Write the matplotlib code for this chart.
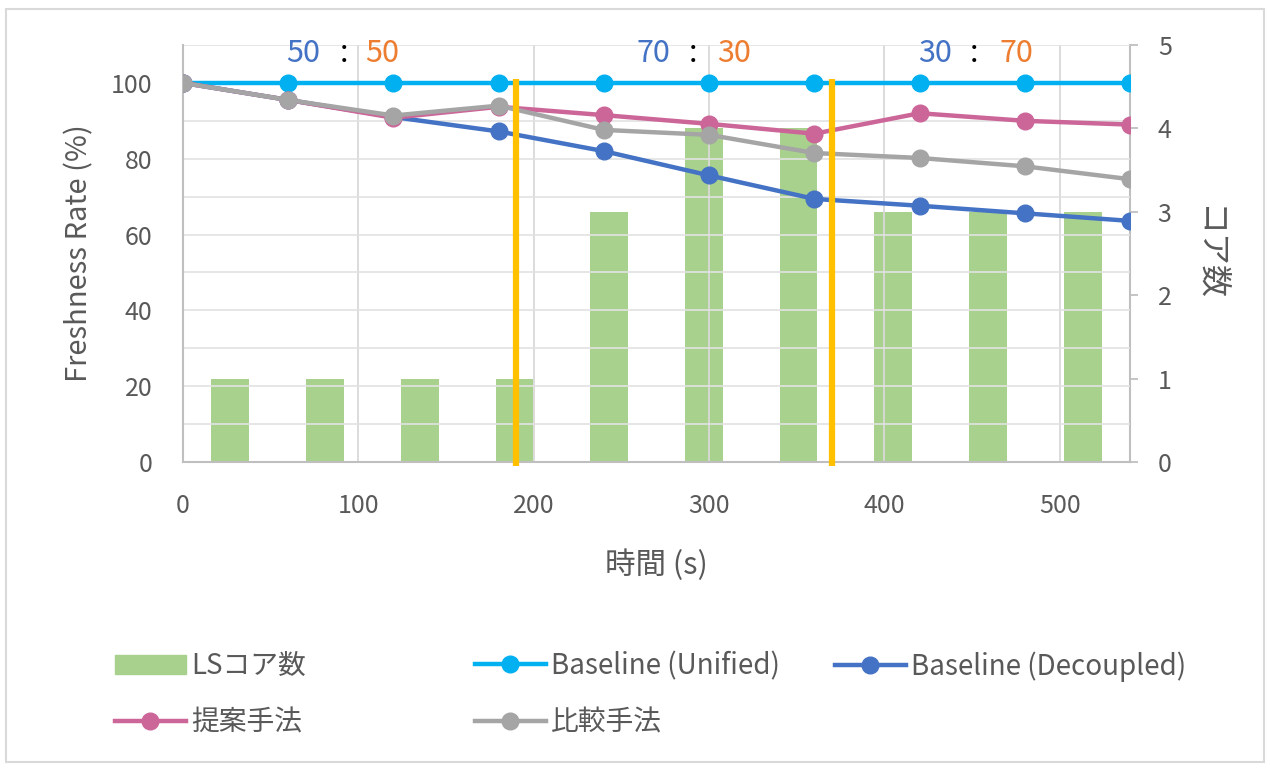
import numpy as np
import matplotlib
matplotlib.use("Agg")
import matplotlib.pyplot as plt
from matplotlib.patches import Rectangle
from matplotlib.lines import Line2D

plt.rcParams['font.family'] = ['Noto Sans CJK JP', 'DejaVu Sans']

# ---- data ----
time_s = [0, 60, 120, 180, 240, 300, 360, 420, 480, 540]
baseline_unified = [100, 100, 100, 100, 100, 100, 100, 100, 100, 100]
baseline_decoupled = [100, 95.5, 91, 87.2, 82, 75.6, 69.4, 67.6, 65.6, 63.6]
proposed = [100, 95.5, 90.8, 93.7, 91.5, 89.2, 86.6, 92, 90, 89]
comparison = [100, 95.5, 91.4, 94, 87.6, 86.3, 81.5, 80.2, 78, 74.6]
ls_cores = [1, 1, 1, 1, 3, 4, 4, 3, 3, 3]
phase_bounds = [190, 370]
ratio_labels = [("50", "50"), ("70", "30"), ("30", "70")]

TEXT = "#595959"
GRID = "#D9D9D9"
C_UNI = "#00B0F0"
C_DEC = "#4472C4"
C_PROP = "#CC6699"
C_COMP = "#A5A5A5"
C_BAR = "#A9D18E"
C_PHASE = "#FFC000"
C_BLUE_TXT = "#4472C4"
C_ORANGE_TXT = "#ED7D31"

W, H = 1271, 770
fig = plt.figure(figsize=(W / 100, H / 100), dpi=100)
fig.patch.set_facecolor("white")

# outer chart frame
fig.add_artist(Rectangle((6 / W, 8 / H), 1258 / W, 753 / H, transform=fig.transFigure,
                         fill=False, edgecolor="#D9D9D9", linewidth=1.5))

ax = fig.add_axes([183 / W, 1 - 462 / H, 947 / W, 417 / H])
ax2 = ax.twinx()

# secondary category axis for the bars: equal-width categories over the time span
n = len(ls_cores)
span = time_s[-1] - time_s[0]
cat_w = span / n
bar_x = time_s[0] + (np.arange(n) + 0.5) * cat_w
ax2.bar(bar_x, ls_cores, width=cat_w * 0.4, color=C_BAR, zorder=1)
ax2.set_ylim(0, 5)
ax2.set_yticks(range(0, 6))

ax.set_zorder(ax2.get_zorder() + 1)
ax.patch.set_visible(False)

lw, ms = 3.2, 12
ax.plot(time_s, baseline_unified, color=C_UNI, lw=lw, marker="o", ms=ms, label="Baseline (Unified)", zorder=3)
ax.plot(time_s, baseline_decoupled, color=C_DEC, lw=lw, marker="o", ms=ms, label="Baseline (Decoupled)", zorder=3)
ax.plot(time_s, proposed, color=C_PROP, lw=lw, marker="o", ms=ms, label="提案手法", zorder=3)
ax.plot(time_s, comparison, color=C_COMP, lw=lw, marker="o", ms=ms, label="比較手法", zorder=3)

for xb in phase_bounds:
    ax.plot([xb, xb], [-1, 101], color=C_PHASE, lw=4.5, zorder=5, solid_capstyle="butt", clip_on=False)

ax.set_xlim(time_s[0], time_s[-1])
ax.set_ylim(0, 110)
ax.set_yticks(range(0, 101, 20))
ax.set_yticks(range(0, 111, 10), minor=True)
ax.set_xticks(range(0, 501, 100))
ax.grid(True, which="both", axis="y", color="#E2E2E2", lw=1.2, zorder=0)
ax.grid(True, which="major", axis="x", color=GRID, lw=1.3, zorder=0)
ax.tick_params(which="minor", length=0)
ax.tick_params(axis="both", which="major", length=0, labelsize=18, labelcolor=TEXT)
ax.tick_params(axis="x", pad=22)
ax.tick_params(axis="y", pad=22)
ax2.tick_params(axis="y", length=6, width=1.3, color="#BFBFBF", labelsize=18, labelcolor=TEXT, pad=14)

for a in (ax, ax2):
    for s in a.spines.values():
        s.set_visible(False)
for a, side in ((ax2, "right"), (ax, "left"), (ax, "bottom")):
    a.spines[side].set_visible(True)
    a.spines[side].set_color("#BFBFBF")
    a.spines[side].set_linewidth(1.5)

ax.set_ylabel("Freshness Rate (%)", fontsize=21, color=TEXT)
ax.yaxis.set_label_coords(-0.094, 0.5)
ax.set_xlabel("時間 (s)", fontsize=22, color=TEXT)
ax.xaxis.set_label_coords(0.5, -0.21)
ax2.set_ylabel("コア数", fontsize=23, color=TEXT, rotation=270, va="center")
ax2.yaxis.set_label_coords(1.083, 0.5)

# share ratio labels for each phase
ratio_x = [(68.8, 91.7, 113.5), (268, 291, 314), (429, 451, 475)]
for (left, right), (xl, xc, xr) in zip(ratio_labels, ratio_x):
    kw = dict(fontsize=22, va="center", ha="center", clip_on=False, zorder=6)
    ax.text(xl, 107.8, left, color=C_BLUE_TXT, **kw)
    ax.text(xc, 107.8, ":", color="black", **kw)
    ax.text(xr, 107.8, right, color=C_ORANGE_TXT, **kw)

# legend laid out in three columns across two rows
def line_handle(c):
    return Line2D([], [], color=c, lw=3.2, marker="o", ms=12)

bar_handle = Rectangle((0, 0), 1, 1, color=C_BAR)
legend_cols = [
    ([bar_handle, line_handle(C_PROP)], ["LSコア数", "提案手法"], 115),
    ([line_handle(C_UNI), line_handle(C_COMP)], ["Baseline (Unified)", "比較手法"], 475),
    ([line_handle(C_DEC)], ["Baseline (Decoupled)"], 835),
]
for handles, labels, xpix in legend_cols:
    fig.legend(handles, labels, loc="upper left", bbox_to_anchor=(xpix / W, 1 - 651 / H),
               frameon=False, fontsize=20, labelcolor=TEXT, handlelength=2.55,
               handletextpad=0.18, labelspacing=0.95, borderaxespad=0, borderpad=0)

fig.savefig("out.png", dpi=100, facecolor="white")
